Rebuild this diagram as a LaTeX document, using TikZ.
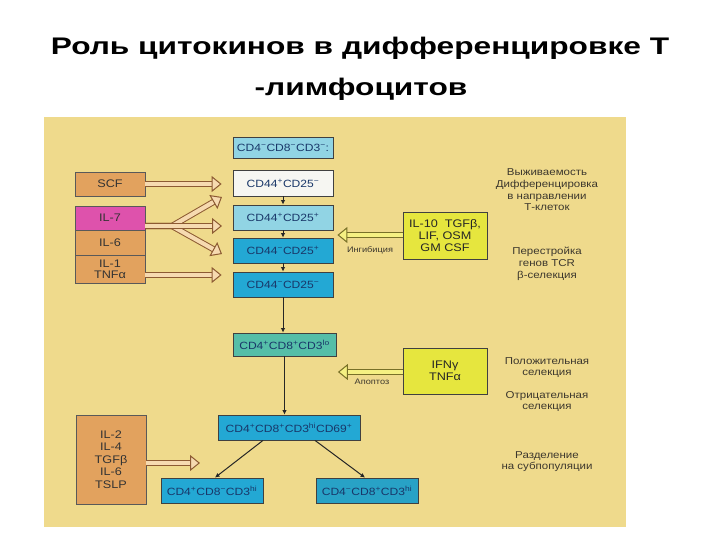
\documentclass[tikz,border=0pt]{standalone}
\usepackage{fontspec}
\setmainfont{Liberation Sans}
\newfontfamily\widefont[FakeStretch=1.15]{Liberation Sans}
\newfontfamily\titlefont[FakeStretch=1.32]{Liberation Sans Bold}
\usetikzlibrary{arrows.meta}
\definecolor{panel}{RGB}{239,218,140}
\definecolor{lcyan}{RGB}{145,212,228}
\definecolor{pale}{RGB}{246,246,242}
\definecolor{mblue}{RGB}{35,168,212}
\definecolor{mblueB}{RGB}{40,162,198}
\definecolor{tealbox}{RGB}{85,190,168}
\definecolor{orng}{RGB}{226,162,94}
\definecolor{mag}{RGB}{222,82,172}
\definecolor{yel}{RGB}{230,230,62}
\definecolor{arrbrown}{RGB}{140,90,50}
\definecolor{arrfill}{RGB}{246,218,176}
\definecolor{yelline}{RGB}{120,112,40}
\definecolor{yelfill}{RGB}{245,240,130}
\definecolor{txt}{RGB}{60,55,45}
\definecolor{btxt}{RGB}{25,55,105}
\newcommand\Sp{\textsuperscript{+}}
\newcommand\Sm{\textsuperscript{−}}
\newcommand\Slo{\textsuperscript{lo}}
\newcommand\Shi{\textsuperscript{hi}}
\tikzset{
  stage/.style={draw=black!75, line width=0.8pt, minimum width=100pt, minimum height=25pt,
    inner sep=0pt, font=\widefont\fontsize{10.5}{12}\selectfont, text=btxt},
  cyt/.style={draw=black!65, line width=0.6pt, fill=orng, minimum width=70pt, inner sep=0pt,
    font=\widefont\fontsize{11}{12}\selectfont, align=center, text=black!80},
  ybox/.style={draw=black!75, line width=0.8pt, fill=yel, minimum width=84pt, minimum height=47pt,
    inner sep=0pt, align=center, font=\widefont\fontsize{11}{12}\selectfont, text=black!85},
  side/.style={font=\widefont\fontsize{10}{11.7}\selectfont, align=center, text=txt},
  lab/.style={font=\widefont\fontsize{8}{10}\selectfont, text=txt},
  fat/.style={draw=arrbrown, double=arrfill, double distance=4.2pt, line width=1pt,
    -{Triangle[fill=arrfill, length=10pt, width=16pt, line width=1pt]}},
  fatY/.style={draw=yelline, double=yelfill, double distance=4.2pt, line width=1pt,
    -{Triangle[fill=yelfill, length=10pt, width=16pt, line width=1pt]}},
  conn/.style={draw=black!85, line width=1pt, -{Latex[length=4.5pt,width=4.5pt]}}
}
\begin{document}
\begin{tikzpicture}[x=1pt,y=-1pt]
\useasboundingbox (0,0) rectangle (720,540);
\fill[white] (0,0) rectangle (720,540);
% title
\node[font=\titlefont\fontsize{24}{28}\selectfont] (title1) at (360,48) {Роль цитокинов в дифференцировке Т};
\node[font=\titlefont\fontsize{24}{28}\selectfont] (title2) at (361,89) {-лимфоцитов};
% panel
\fill[panel] (44,117) rectangle (626,527);
% stage boxes
\node[stage, fill=lcyan, minimum height=21pt] (s1) at (283,147.5) {CD4\Sm CD8\Sm CD3\Sm:};
\node[stage, fill=pale, minimum height=26pt] (s2) at (283,183) {CD44\Sp CD25\Sm};
\node[stage, fill=lcyan] (s3) at (283,217.5) {CD44\Sp CD25\Sp};
\node[stage, fill=mblue] (s4) at (283,250.5) {CD44\Sm CD25\Sp};
\node[stage, fill=mblue] (s5) at (283,284.5) {CD44\Sm CD25\Sm};
\node[stage, fill=tealbox, minimum width=103pt, minimum height=23pt] (s6) at (284.5,344.5) {CD4\Sp CD8\Sp CD3\Slo};
\node[stage, fill=mblue, minimum width=142pt] (s7) at (289,427.5) {CD4\Sp CD8\Sp CD3\Shi CD69\Sp};
\node[stage, fill=mblue, minimum width=102pt] (s8) at (212,490.5) {CD4\Sp CD8\Sm CD3\Shi};
\node[stage, fill=mblueB, minimum width=102pt] (s9) at (367,490.5) {CD4\Sm CD8\Sp CD3\Shi};
% cytokine boxes
\node[cyt, minimum height=24pt] (scf) at (110,184) {SCF};
\node[cyt, fill=mag, minimum height=24pt] (il7) at (110,218) {IL-7};
\node[cyt, minimum height=25pt] (il6) at (110,242.5) {IL-6};
\node[cyt, minimum height=28pt, font=\widefont\fontsize{11}{11}\selectfont] (il1) at (110,269) {IL-1\\TNFα};
\node[cyt, minimum height=89pt, font=\widefont\fontsize{11}{12.5}\selectfont] (bl) at (111,459.5) {IL-2\\IL-4\\TGFβ\\IL-6\\TSLP};
% yellow boxes
\node[ybox] (y1) at (445,236) {IL-10\ \ TGFβ,\\LIF, OSM\\GM CSF};
\node[ybox, minimum height=46pt] (y2) at (445,371) {IFNγ\\TNFα};
% side texts
\node[side] (t1) at (547,190) {Выживаемость\\Дифференцировка\\в направлении\\Т-клеток};
\node[side] (t2) at (547,264) {Перестройка\\генов TCR\\β-селекция};
\node[side] (t3) at (547,367.5) {Положительная\\селекция};
\node[side] (t4) at (547,401.5) {Отрицательная\\селекция};
\node[side] (t5) at (547,461.5) {Разделение\\на субпопуляции};
% labels
\node[lab] (inh) at (370,250) {Ингибиция};
\node[lab] (apo) at (372,382) {Апоптоз};
% hollow arrows from cytokines
\coordinate (stem) at (145,226);
\coordinate (fork) at (172,226);
\coordinate (f1) at (222,197);
\coordinate (f2) at (222,226);
\coordinate (f3) at (222,254);
\coordinate (blt) at (200,463);
\draw[fat] (scf.east) -- ([xshift=-11pt]scf.east -| s2.west);
\draw[fat] (stem) -- (fork) -- (f1);
\draw[fat] (stem) -- (fork) -- (f3);
\draw[fat] (stem) -- (f2);
\draw[fat] ([yshift=-6pt]il1.east) -- ([yshift=-6pt,xshift=-11pt]il1.east -| s5.west);
\draw[fat] ([yshift=-3.5pt]bl.east) -- (blt);
\draw[fatY] ([yshift=1pt]y1.west) -- ([yshift=1pt,xshift=4pt]y1.west -| s4.east);
\draw[fatY] ([yshift=-1pt]y2.west) -- ([yshift=-1pt,xshift=1.5pt]y2.west -| s6.east);
% thin connectors
\draw[conn] (s2) -- (s3);
\draw[conn] (s3) -- (s4);
\draw[conn] (s4) -- (s5);
\draw[conn] (s5.south) -- (s5.south |- s6.north);
\draw[conn] (s6.south) -- (s6.south |- s7.north);
\draw[conn] ([xshift=-26pt]s7.south) -- ([xshift=3pt]s8.north);
\draw[conn] ([xshift=26pt]s7.south) -- ([xshift=-2pt]s9.north);
\end{tikzpicture}
\end{document}
